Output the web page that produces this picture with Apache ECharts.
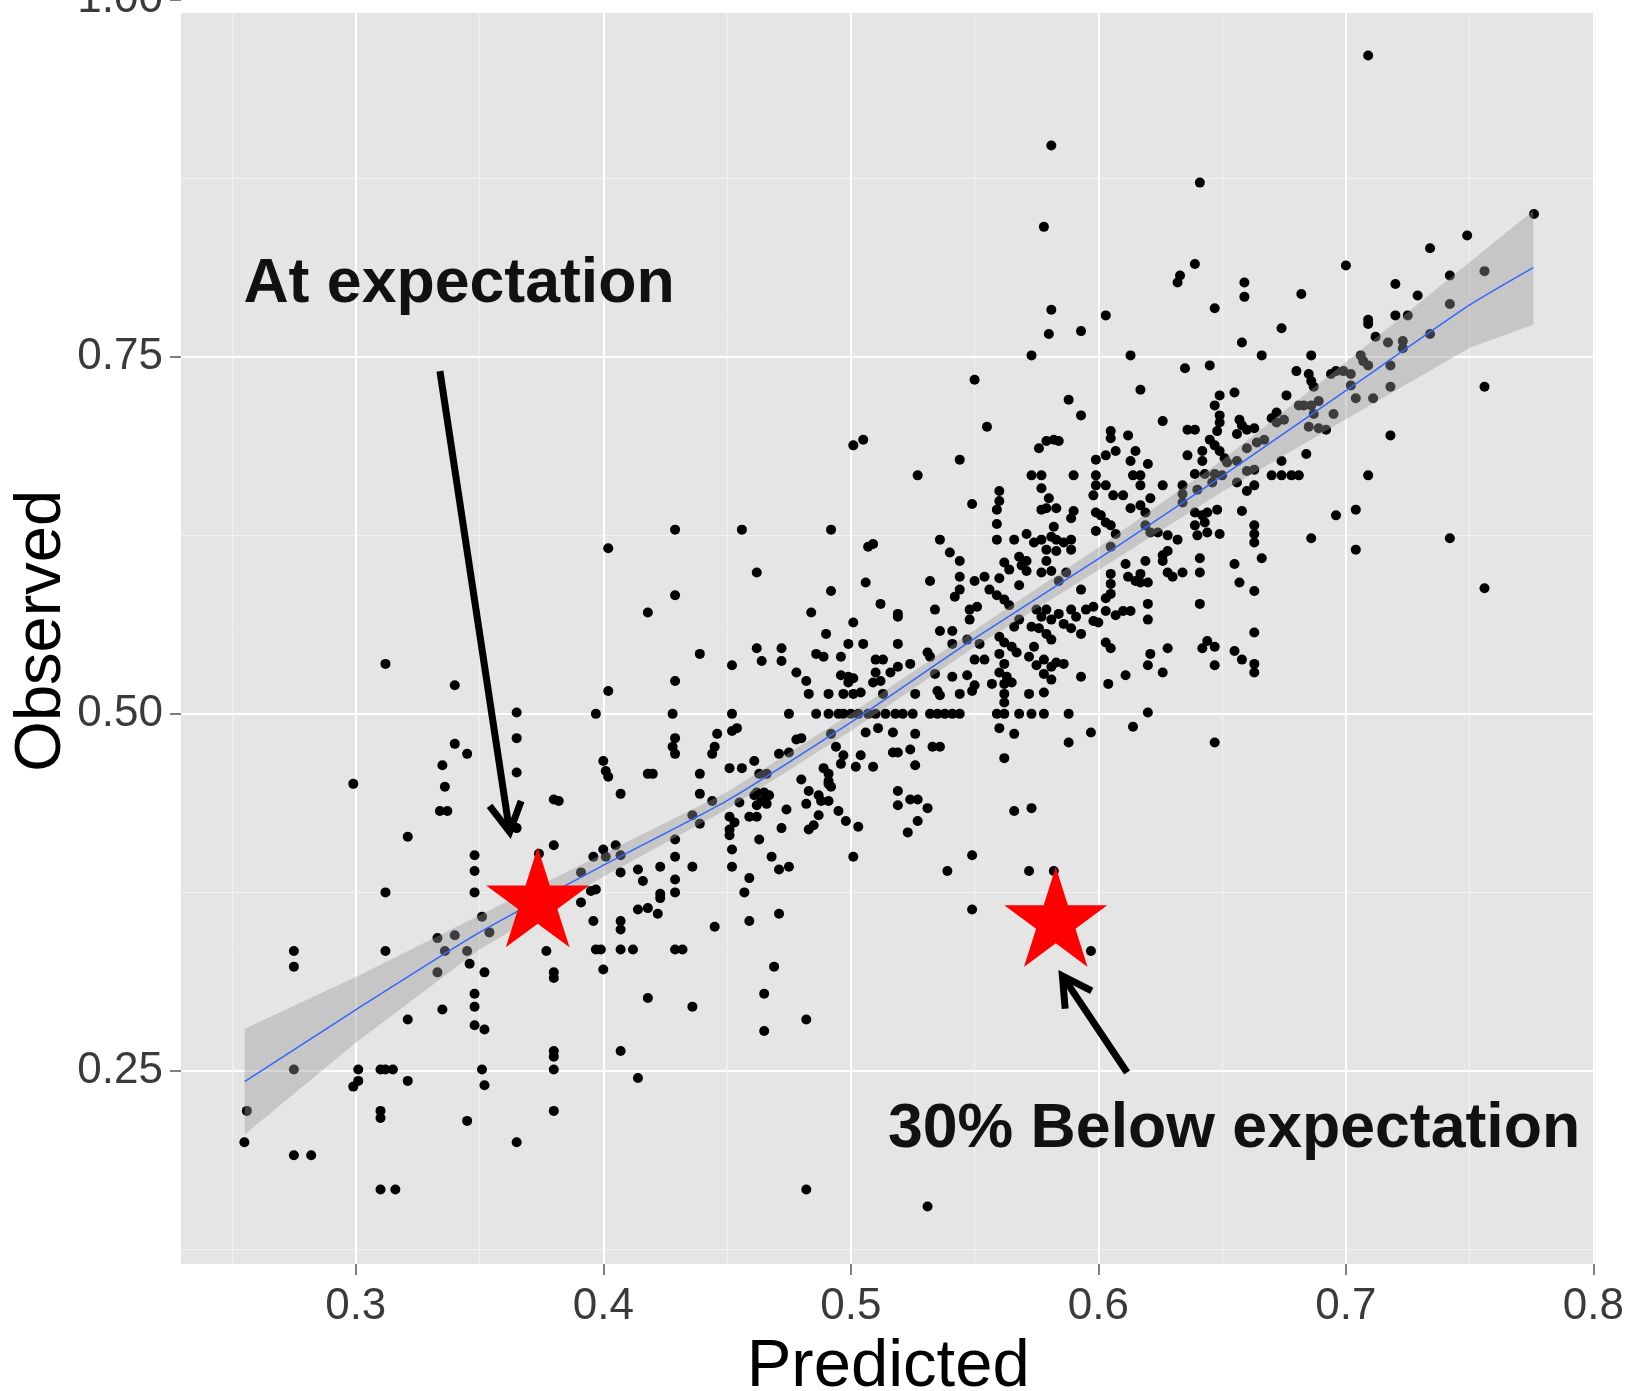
<!DOCTYPE html>
<html><head><meta charset="utf-8">
<script src="https://cdn.jsdelivr.net/npm/echarts@6/dist/echarts.min.js"></script>
<style>html,body{margin:0;padding:0;background:#fff}#c{width:1627px;height:1391px}</style>
</head><body><div id="c"></div>
<script>
// ---------- scatter data (Predicted / Observed), grouped by region ----------
const predA = [0.312,0.340,0.365,0.365,0.340,0.345,0.335,0.299,0.336,0.365,0.334,0.337,0.380,0.321,0.365,0.380,0.348,0.348,0.312,0.348,0.351,0.333,0.340,0.354,0.374,0.275,0.275,0.312,0.336,0.345,0.377,0.333,0.346,0.352,0.380,0.380,0.321,0.335,0.348,0.348,0.348,0.352,0.380,0.380,0.275,0.301,0.301,0.299,0.310,0.312,0.315,0.321,0.351,0.352,0.380,0.256,0.310,0.310,0.345,0.380,0.255,0.275,0.282,0.365,0.310,0.316];
const obsA  = [0.535,0.520,0.501,0.483,0.479,0.472,0.464,0.451,0.449,0.459,0.432,0.432,0.440,0.414,0.420,0.408,0.401,0.390,0.375,0.375,0.358,0.343,0.345,0.347,0.402,0.334,0.323,0.334,0.334,0.334,0.334,0.319,0.325,0.319,0.319,0.315,0.286,0.293,0.304,0.295,0.282,0.279,0.264,0.260,0.251,0.251,0.243,0.239,0.251,0.251,0.251,0.243,0.251,0.240,0.251,0.222,0.222,0.217,0.215,0.222,0.200,0.191,0.191,0.200,0.167,0.167];

const predB = [0.429,0.456,0.492,0.402,0.507,0.509,0.462,0.429,0.492,0.506,0.418,0.484,0.512,0.501,0.490,0.439,0.452,0.462,0.464,0.472,0.472,0.499,0.505,0.486,0.489,0.496,0.510,0.513,0.429,0.402,0.478,0.482,0.496,0.499,0.501,0.499,0.510,0.509,0.512,0.516,0.483,0.491,0.497,0.501,0.504,0.513,0.397,0.428,0.452,0.475,0.486,0.491,0.495,0.497,0.500,0.503,0.507,0.510,0.514,0.492,0.446,0.452,0.454,0.429,0.428,0.429,0.445,0.444,0.478,0.480,0.506,0.511,0.494,0.471,0.475,0.497,0.496,0.504,0.502,0.509,0.400,0.401,0.402,0.418,0.420,0.439,0.451,0.456,0.461,0.489,0.491,0.491,0.480,0.463,0.466,0.382,0.407,0.439,0.444,0.455,0.462,0.465,0.467,0.461,0.464,0.462,0.466,0.483,0.487,0.488,0.491,0.492,0.491,0.482,0.474,0.495,0.498,0.503,0.436,0.439,0.451,0.453,0.451,0.451,0.459,0.462,0.487,0.485,0.483,0.472,0.463,0.429,0.452,0.468,0.501,0.396,0.400,0.405,0.401,0.407,0.429,0.414,0.407,0.423,0.436,0.452,0.471,0.475,0.391];
const obsB  = [0.629,0.629,0.629,0.616,0.617,0.619,0.599,0.583,0.586,0.592,0.571,0.571,0.577,0.564,0.556,0.542,0.534,0.546,0.537,0.546,0.537,0.549,0.549,0.542,0.540,0.540,0.538,0.538,0.523,0.516,0.529,0.523,0.527,0.526,0.525,0.522,0.529,0.522,0.523,0.529,0.514,0.514,0.514,0.514,0.515,0.514,0.500,0.500,0.500,0.500,0.500,0.500,0.500,0.500,0.500,0.500,0.500,0.500,0.500,0.486,0.486,0.488,0.490,0.483,0.477,0.472,0.477,0.472,0.482,0.483,0.487,0.490,0.477,0.472,0.473,0.471,0.465,0.471,0.463,0.463,0.467,0.460,0.456,0.458,0.458,0.458,0.462,0.462,0.467,0.462,0.458,0.451,0.454,0.458,0.458,0.439,0.444,0.444,0.439,0.438,0.445,0.445,0.443,0.443,0.439,0.436,0.437,0.446,0.443,0.439,0.439,0.449,0.453,0.437,0.433,0.432,0.425,0.421,0.429,0.423,0.428,0.424,0.419,0.415,0.428,0.428,0.429,0.422,0.419,0.420,0.412,0.412,0.405,0.400,0.400,0.400,0.405,0.408,0.400,0.401,0.400,0.391,0.389,0.393,0.393,0.393,0.391,0.393,0.389];

const predC = [0.416,0.429,0.459,0.395,0.397,0.423,0.423,0.429,0.457,0.391,0.414,0.418,0.422,0.396,0.407,0.407,0.445,0.459,0.471,0.397,0.399,0.407,0.412,0.429,0.432,0.400,0.469,0.465,0.418,0.436,0.482,0.465,0.407,0.414,0.482];
const obsC  = [0.383,0.384,0.385,0.376,0.377,0.374,0.371,0.375,0.375,0.368,0.363,0.364,0.360,0.355,0.355,0.349,0.351,0.355,0.360,0.335,0.335,0.335,0.335,0.335,0.335,0.321,0.323,0.304,0.301,0.295,0.286,0.278,0.264,0.245,0.167];

const predD = [0.501,0.505,0.581,0.641,0.578,0.581,0.580,0.593,0.573,0.550];
const obsD  = [0.688,0.692,0.898,0.872,0.841,0.783,0.766,0.768,0.751,0.734];

const predE = [0.588,0.593,0.576,0.579,0.582,0.584,0.555,0.544,0.527,0.573,0.577,0.590,0.577,0.560,0.560,0.559,0.580,0.579,0.577,0.583,0.590,0.589,0.549,0.559,0.582,0.536,0.559,0.566,0.571,0.574,0.577,0.581,0.583,0.586,0.589,0.579,0.583,0.589,0.540,0.568,0.571,0.569,0.562,0.564,0.579,0.544,0.577,0.581,0.571,0.560,0.554,0.550,0.544,0.532,0.568,0.584,0.587,0.593,0.556,0.559,0.544,0.542,0.562,0.564,0.548,0.551,0.534,0.519,0.519,0.575,0.579,0.577,0.581,0.584,0.589,0.591,0.595,0.586,0.589,0.593,0.548,0.568,0.566,0.573,0.576,0.579,0.519,0.536,0.541,0.541,0.547,0.552,0.560,0.562,0.565,0.567,0.574,0.581,0.531,0.532,0.524,0.519,0.550,0.554,0.560,0.562,0.572,0.575,0.578,0.581,0.583,0.586,0.560,0.563,0.565,0.562,0.541,0.547,0.534,0.557,0.578,0.581,0.593,0.550,0.549,0.535,0.536,0.526,0.544,0.562,0.562,0.572,0.578];
const obsE  = [0.720,0.709,0.686,0.691,0.692,0.691,0.701,0.678,0.667,0.667,0.667,0.667,0.658,0.656,0.649,0.643,0.651,0.644,0.643,0.644,0.642,0.637,0.647,0.633,0.631,0.622,0.622,0.622,0.626,0.620,0.622,0.624,0.622,0.620,0.622,0.615,0.614,0.615,0.613,0.610,0.607,0.604,0.606,0.601,0.607,0.607,0.599,0.600,0.600,0.595,0.596,0.593,0.596,0.593,0.590,0.593,0.599,0.587,0.587,0.583,0.587,0.582,0.580,0.576,0.573,0.575,0.573,0.570,0.568,0.573,0.573,0.568,0.566,0.570,0.573,0.568,0.573,0.563,0.560,0.556,0.566,0.566,0.561,0.561,0.560,0.556,0.549,0.558,0.558,0.549,0.552,0.549,0.554,0.550,0.547,0.543,0.547,0.552,0.543,0.540,0.535,0.533,0.538,0.538,0.542,0.535,0.540,0.534,0.538,0.533,0.536,0.535,0.529,0.526,0.522,0.521,0.526,0.527,0.528,0.521,0.528,0.524,0.526,0.520,0.516,0.516,0.513,0.514,0.514,0.514,0.508,0.514,0.515];

const predF = [0.518,0.521,0.525,0.532,0.535,0.538,0.541,0.544,0.559,0.562,0.568,0.573,0.578,0.588,0.517,0.526,0.517,0.519,0.524,0.533,0.536,0.526,0.560,0.566,0.588,0.597,0.562,0.519,0.519,0.524,0.527,0.531,0.527,0.523,0.566,0.573,0.549,0.539,0.572,0.582,0.549,0.597,0.531];
const obsF  = [0.500,0.500,0.500,0.500,0.500,0.500,0.500,0.500,0.500,0.500,0.500,0.500,0.500,0.500,0.487,0.486,0.473,0.473,0.475,0.477,0.477,0.464,0.490,0.486,0.480,0.487,0.469,0.446,0.436,0.440,0.440,0.434,0.425,0.417,0.432,0.434,0.401,0.390,0.390,0.390,0.363,0.334,0.155];

const predG = [0.639,0.633,0.632,0.659,0.659,0.603,0.647,0.674,0.658,0.613,0.666,0.635,0.645,0.617,0.649,0.655,0.647,0.676,0.626,0.636,0.639,0.649,0.649,0.648,0.657,0.658,0.660,0.663,0.656,0.670,0.672,0.675,0.672,0.605,0.605,0.612,0.645,0.647,0.649,0.651,0.652,0.660,0.664,0.667,0.642,0.642,0.636,0.615,0.607,0.603,0.599,0.613,0.620,0.656,0.674,0.639,0.643,0.647,0.650,0.670,0.674,0.678,0.660,0.663,0.599,0.599,0.603,0.617,0.617,0.614,0.626,0.634,0.634,0.634,0.640,0.646,0.656,0.660,0.663,0.606,0.610,0.621,0.613,0.617,0.619,0.599,0.601,0.603,0.639,0.642,0.644,0.648,0.643,0.658,0.663,0.663,0.663,0.605,0.607,0.599,0.619,0.621,0.624,0.628,0.632,0.639,0.640,0.644,0.649,0.598];
const obsG  = [0.815,0.807,0.802,0.802,0.792,0.779,0.784,0.770,0.760,0.751,0.751,0.742,0.744,0.727,0.723,0.725,0.716,0.723,0.705,0.699,0.699,0.709,0.704,0.698,0.706,0.702,0.699,0.700,0.696,0.707,0.704,0.706,0.711,0.698,0.693,0.695,0.692,0.688,0.684,0.679,0.676,0.686,0.690,0.692,0.684,0.677,0.681,0.684,0.684,0.681,0.678,0.677,0.675,0.677,0.677,0.668,0.668,0.668,0.667,0.667,0.667,0.667,0.670,0.671,0.667,0.660,0.660,0.667,0.660,0.667,0.660,0.660,0.654,0.648,0.657,0.662,0.662,0.656,0.660,0.653,0.653,0.651,0.644,0.646,0.641,0.641,0.639,0.634,0.641,0.639,0.641,0.643,0.634,0.642,0.632,0.626,0.620,0.632,0.626,0.628,0.632,0.627,0.627,0.625,0.622,0.632,0.625,0.627,0.626,0.653];

const predH = [0.605,0.611,0.619,0.626,0.628,0.626,0.628,0.630,0.634,0.641,0.641,0.641,0.655,0.666,0.657,0.663,0.605,0.605,0.605,0.612,0.615,0.617,0.620,0.617,0.603,0.603,0.598,0.598,0.600,0.607,0.610,0.613,0.620,0.620,0.663,0.603,0.605,0.621,0.620,0.628,0.626,0.611,0.604,0.642,0.644,0.647,0.647,0.655,0.658,0.663,0.663,0.620,0.614,0.647];
const obsH  = [0.617,0.605,0.607,0.611,0.614,0.607,0.599,0.596,0.599,0.609,0.599,0.577,0.605,0.609,0.592,0.586,0.598,0.591,0.584,0.596,0.593,0.592,0.592,0.598,0.581,0.572,0.575,0.565,0.564,0.569,0.572,0.572,0.577,0.566,0.557,0.550,0.546,0.542,0.534,0.546,0.529,0.527,0.521,0.546,0.551,0.547,0.534,0.544,0.538,0.535,0.529,0.501,0.491,0.480];

const predI = [0.709,0.700,0.682,0.734,0.749,0.776,0.742,0.756,0.720,0.729,0.709,0.709,0.720,0.725,0.742,0.712,0.717,0.723,0.723,0.734,0.686,0.706,0.707,0.709,0.680,0.685,0.686,0.687,0.694,0.696,0.699,0.702,0.702,0.718,0.718,0.704,0.711,0.681,0.683,0.686,0.689,0.687,0.695,0.685,0.689,0.692,0.756,0.718,0.684,0.681,0.709,0.696,0.704,0.686,0.704,0.742,0.756];
const obsI  = [0.961,0.814,0.794,0.826,0.835,0.850,0.807,0.810,0.801,0.793,0.776,0.773,0.779,0.779,0.787,0.764,0.760,0.761,0.756,0.766,0.751,0.751,0.747,0.744,0.740,0.738,0.733,0.729,0.738,0.740,0.740,0.738,0.730,0.744,0.729,0.721,0.721,0.716,0.716,0.716,0.719,0.710,0.710,0.701,0.700,0.699,0.729,0.695,0.682,0.667,0.667,0.639,0.643,0.623,0.615,0.623,0.588];

const predicted = [].concat(predA, predB, predC, predD, predE, predF, predG, predH, predI);
const observed  = [].concat(obsA, obsB, obsC, obsD, obsE, obsF, obsG, obsH, obsI);

// ---------- smoother (loess fit and its confidence band) ----------
const fitX    = [0.2551, 0.30, 0.35, 0.40, 0.45, 0.50, 0.55, 0.60, 0.65, 0.70, 0.75, 0.7757];
const fitY    = [0.2425, 0.2928, 0.347, 0.394, 0.4393, 0.494, 0.5528, 0.6085, 0.6665, 0.7263, 0.7863, 0.8125];
const fitLow  = [0.2055, 0.2698, 0.335, 0.386, 0.4333, 0.488, 0.5468, 0.6005, 0.6555, 0.7063, 0.7563, 0.7725];
const fitHigh = [0.2795, 0.3158, 0.359, 0.402, 0.4453, 0.500, 0.5588, 0.6165, 0.6775, 0.7463, 0.8163, 0.8525];

// ---------- highlighted cases (stars) ----------
const starX = [0.3735, 0.5828];
const starY = [0.3716, 0.3578];

// ---------- axis ticks ----------
const xTicks = [0.3, 0.4, 0.5, 0.6, 0.7, 0.8];
const xMinor = [0.25, 0.35, 0.45, 0.55, 0.65, 0.75];
const yTicks = [0.25, 0.5, 0.75, 1.0];
const yMinor = [0.125, 0.375, 0.625, 0.875];

// ---------- annotations: text anchors and arrows (data coords) ----------
const noteText = ['At expectation', '30% Below expectation'];
const noteX = [0.2546, 0.5150];
const noteY = [0.8003, 0.2090];
const arrowFrom = [[0.334, 0.740], [0.6116, 0.2489]];
const arrowTo   = [[0.3626, 0.4125], [0.5839, 0.3206]];

const FONT = '"Liberation Sans", Arial, Helvetica, sans-serif';
const XMIN = 0.2294, XMAX = 0.8008, YMIN = 0.1148, YMAX = 1.0016;
const STAR = 'path://M0,-100L22.45,-30.9L95.1,-30.9L36.33,11.8L58.78,80.9L0,38.2L-58.78,80.9L-36.33,11.8L-95.1,-30.9L-22.45,-30.9Z';

const chart = echarts.init(document.getElementById('c'), null, {renderer: 'canvas', width: 1627, height: 1391});

const option = {
  animation: false,
  backgroundColor: '#ffffff',
  grid: {left: 181, right: 31.6, top: -2.5, bottom: 127, containLabel: false, outerBoundsMode: 'none',
         show: true, backgroundColor: '#E5E5E5', borderWidth: 0},
  xAxis: [
    {type: 'value', min: XMIN, max: XMAX, position: 'bottom',
     axisLine: {show: false},
     axisTick: {show: true, length: 11, customValues: xTicks, lineStyle: {color: '#7F7F7F', width: 2}},
     axisLabel: {customValues: xTicks, formatter: v => v.toFixed(1), fontSize: 44, color: '#3A3A3A', margin: 21, fontFamily: FONT},
     splitLine: {show: true, lineStyle: {color: '#FFFFFF', width: 2}},
     name: 'Predicted', nameLocation: 'middle', nameGap: 61,
     nameTextStyle: {fontSize: 67, color: '#000000', fontFamily: FONT}},
    {type: 'value', min: XMIN, max: XMAX, position: 'bottom',
     axisLine: {show: false},
     axisTick: {show: false, customValues: xMinor},
     axisLabel: {show: false, customValues: xMinor},
     splitLine: {show: true, lineStyle: {color: '#F2F2F2', width: 1}}}
  ],
  yAxis: [
    {type: 'value', min: YMIN, max: YMAX, position: 'left',
     axisLine: {show: false},
     axisTick: {show: true, length: 11, customValues: yTicks, lineStyle: {color: '#7F7F7F', width: 2}},
     axisLabel: {customValues: yTicks, formatter: v => v.toFixed(2), fontSize: 44, color: '#3A3A3A', margin: 18, fontFamily: FONT},
     splitLine: {show: true, lineStyle: {color: '#FFFFFF', width: 2}},
     name: 'Observed', nameLocation: 'middle', nameGap: 106, nameRotate: 90, nameMoveOverlap: false,
     nameTextStyle: {fontSize: 65, color: '#000000', fontFamily: FONT}},
    {type: 'value', min: YMIN, max: YMAX, position: 'left',
     axisLine: {show: false},
     axisTick: {show: false, customValues: yMinor},
     axisLabel: {show: false, customValues: yMinor},
     splitLine: {show: true, lineStyle: {color: '#F2F2F2', width: 1}}}
  ],
  series: [
    {type: 'scatter', name: 'points', silent: true, z: 2,
     data: predicted.map((x, i) => [x, observed[i]]),
     symbol: 'circle', symbolSize: 10, itemStyle: {color: '#000000', opacity: 1}},
    {type: 'custom', name: 'band', silent: true, z: 3,
     data: fitX.map((x, i) => [x, fitLow[i], fitHigh[i]]),
     encode: {x: 0, y: [1, 2]},
     renderItem: function (params, api) {
       if (params.dataIndex !== 0) return null;
       const pts = [];
       for (let i = 0; i < fitX.length; i++) pts.push(api.coord([fitX[i], fitHigh[i]]));
       for (let i = fitX.length - 1; i >= 0; i--) pts.push(api.coord([fitX[i], fitLow[i]]));
       return {type: 'polygon', shape: {points: pts}, style: {fill: 'rgba(153,153,153,0.4)'}};
     }},
    {type: 'line', name: 'fit', silent: true, z: 4,
     data: fitX.map((x, i) => [x, fitY[i]]),
     showSymbol: false, symbol: 'none', smooth: 0.2,
     lineStyle: {color: '#3366FF', width: 1.5}},
    {type: 'scatter', name: 'stars', silent: true, z: 6,
     data: starX.map((x, i) => [x, starY[i]]),
     symbol: STAR, symbolSize: [103, 100], itemStyle: {color: '#FF0000', opacity: 1}}
  ]
};
chart.setOption(option);

const toPx = (x, y) => chart.convertToPixel({xAxisIndex: 0, yAxisIndex: 0}, [x, y]);
const graphics = [];
// white strip above the panel (as in the reference crop)
graphics.push({type: 'rect', shape: {x: 181, y: -10, width: 1440, height: 23}, style: {fill: '#ffffff'}, z: 40});
for (let k = 0; k < arrowFrom.length; k++) {
  const p0 = toPx(arrowFrom[k][0], arrowFrom[k][1]);
  const p1 = toPx(arrowTo[k][0], arrowTo[k][1]);
  const dx = p0[0] - p1[0], dy = p0[1] - p1[1];
  const len = Math.hypot(dx, dy), ux = dx / len, uy = dy / len;
  const tip = [p1[0] + 7 * ux, p1[1] + 7 * uy];
  const a = 29 * Math.PI / 180, L = 33;
  const arm = t => [tip[0] + L * (ux * Math.cos(t) - uy * Math.sin(t)), tip[1] + L * (ux * Math.sin(t) + uy * Math.cos(t))];
  graphics.push({type: 'polyline', shape: {points: [p0, tip]}, style: {stroke: '#000', lineWidth: 7, fill: null, lineCap: 'butt'}, z: 50});
  graphics.push({type: 'polyline', shape: {points: [arm(a), tip, arm(-a)]}, style: {stroke: '#000', lineWidth: 7, fill: null, lineJoin: 'miter', lineCap: 'butt'}, z: 50});
}
for (let k = 0; k < noteText.length; k++) {
  const p = toPx(noteX[k], noteY[k]);
  graphics.push({type: 'text', z: 55, style: {text: noteText[k], x: p[0], y: p[1], fill: '#111111',
    font: 'bold 62.6px ' + FONT, align: 'left', verticalAlign: 'middle'}});
}
chart.setOption({graphic: graphics});
</script>
</body></html>
